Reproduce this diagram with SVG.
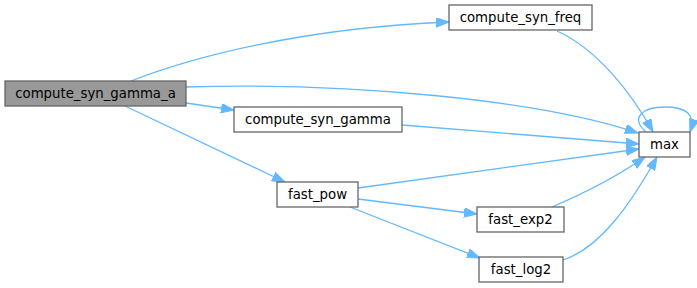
<svg xmlns="http://www.w3.org/2000/svg" width="697" height="288" viewBox="0 0 697 288">
  <style>
    .node rect { fill: #ffffff; stroke: #666666; stroke-width: 1.3; }
    .node.root rect { fill: #999999; }
    .node text { font-family: "DejaVu Sans", sans-serif; font-size: 13.3px; fill: #000000; text-anchor: middle; }
    .edge { fill: none; stroke: #63b8ff; stroke-width: 1.3; marker-end: url(#arrow); }
  </style>
  <defs>
    <marker id="arrow" markerUnits="userSpaceOnUse" markerWidth="14" markerHeight="10" refX="13" refY="4.7" orient="auto">
      <path d="M0,0 L13,4.7 L0,9.4 Z" fill="#63b8ff" stroke="#63b8ff" stroke-width="1"/>
    </marker>
  </defs>

  <!-- call edges -->
  <g id="edges">
    <path class="edge" d="M131,81 C190,58 300,28 449,22"/>
    <path class="edge" d="M186,87 C350,82 540,100 638,133"/>
    <path class="edge" d="M186,103 L234,110"/>
    <path class="edge" d="M125,106 L285,182"/>
    <path class="edge" d="M557,31 C595,48 630,90 653,132"/>
    <path class="edge" d="M402,125 L639,144"/>
    <path class="edge" d="M358,188 L639,149"/>
    <path class="edge" d="M358,199 L477,214"/>
    <path class="edge" d="M350,207 L480,258"/>
    <path class="edge" d="M552,207 C580,195 612,180 645,157"/>
    <path class="edge" d="M563,260 C600,248 630,205 657,157"/>
    <path class="edge" d="M646,132 C630,118 642,107 665,107 C686,107 696,114 690,132"/>
  </g>

  <g id="compute_syn_gamma_a" class="node root">
    <rect x="5" y="81" width="181" height="25"/>
    <text x="95.5" y="98">compute_syn_gamma_a</text>
  </g>
  <g id="compute_syn_freq" class="node">
    <rect x="449" y="5" width="143" height="25"/>
    <text x="520.5" y="22">compute_syn_freq</text>
  </g>
  <g id="compute_syn_gamma" class="node">
    <rect x="234" y="107" width="168" height="25"/>
    <text x="318" y="124">compute_syn_gamma</text>
  </g>
  <g id="max" class="node">
    <rect x="639" y="132" width="51" height="25"/>
    <text x="664.5" y="149">max</text>
  </g>
  <g id="fast_pow" class="node">
    <rect x="277" y="182" width="81" height="25"/>
    <text x="317.5" y="199">fast_pow</text>
  </g>
  <g id="fast_exp2" class="node">
    <rect x="477" y="207" width="87" height="25"/>
    <text x="520.5" y="224">fast_exp2</text>
  </g>
  <g id="fast_log2" class="node">
    <rect x="479" y="257" width="84" height="25"/>
    <text x="521" y="274">fast_log2</text>
  </g>
</svg>
